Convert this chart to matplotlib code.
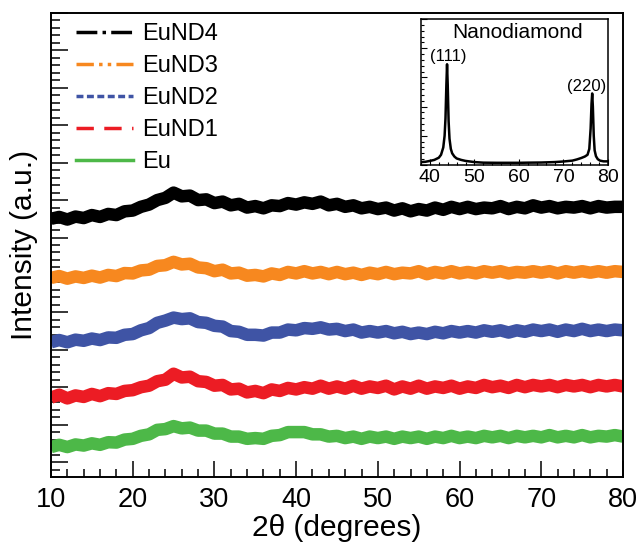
import numpy as np
import matplotlib
matplotlib.use("Agg")
import matplotlib.pyplot as plt
from matplotlib.lines import Line2D
from matplotlib.ticker import MultipleLocator, NullFormatter

plt.rcParams['font.family'] = ['Liberation Sans', 'DejaVu Sans']

# ---------------- data ----------------
two_theta = np.arange(10, 81, 1)

eund4 = [6.50, 6.55, 6.48, 6.56, 6.52, 6.60, 6.55, 6.63, 6.60, 6.70, 6.72, 6.82, 6.88, 7.00, 7.06, 7.20,
         7.10, 7.12, 7.00, 7.02, 6.92, 6.96, 6.86, 6.90, 6.80, 6.84, 6.78, 6.86, 6.84, 6.92, 6.88, 6.94,
         6.90, 6.96, 6.86, 6.90, 6.82, 6.86, 6.78, 6.82, 6.76, 6.80, 6.72, 6.78, 6.70, 6.76, 6.72, 6.80,
         6.74, 6.82, 6.76, 6.82, 6.76, 6.80, 6.78, 6.84, 6.76, 6.82, 6.78, 6.86, 6.80, 6.84, 6.78, 6.82,
         6.80, 6.84, 6.78, 6.84, 6.80, 6.82, 6.82]
eund3 = [4.92, 4.97, 4.90, 4.96, 4.92, 4.98, 4.93, 5.00, 4.97, 5.05, 5.04, 5.12, 5.14, 5.24, 5.26, 5.35,
         5.28, 5.30, 5.20, 5.18, 5.10, 5.14, 5.04, 5.06, 4.98, 5.00, 4.96, 5.04, 5.00, 5.08, 5.04, 5.10,
         5.04, 5.08, 5.02, 5.08, 5.02, 5.06, 5.00, 5.06, 5.02, 5.08, 5.02, 5.06, 5.04, 5.10, 5.02, 5.08,
         5.04, 5.10, 5.04, 5.08, 5.04, 5.10, 5.06, 5.10, 5.04, 5.08, 5.06, 5.10, 5.06, 5.10, 5.04, 5.10,
         5.06, 5.10, 5.06, 5.10, 5.06, 5.10, 5.08]
eund2 = [3.20, 3.26, 3.20, 3.27, 3.24, 3.30, 3.26, 3.33, 3.32, 3.40, 3.42, 3.52, 3.58, 3.72, 3.78, 3.86,
         3.82, 3.84, 3.74, 3.72, 3.64, 3.62, 3.50, 3.48, 3.40, 3.40, 3.38, 3.46, 3.46, 3.54, 3.52, 3.58,
         3.56, 3.60, 3.54, 3.56, 3.50, 3.54, 3.46, 3.50, 3.46, 3.50, 3.44, 3.48, 3.42, 3.46, 3.42, 3.48,
         3.44, 3.50, 3.46, 3.50, 3.46, 3.52, 3.48, 3.52, 3.46, 3.52, 3.48, 3.54, 3.50, 3.54, 3.48, 3.54,
         3.50, 3.56, 3.50, 3.54, 3.50, 3.54, 3.52]
eund1 = [1.72, 1.80, 1.70, 1.78, 1.74, 1.82, 1.76, 1.84, 1.82, 1.90, 1.92, 2.00, 2.04, 2.16, 2.20, 2.36,
         2.26, 2.28, 2.16, 2.14, 2.04, 2.06, 1.94, 1.96, 1.86, 1.90, 1.84, 1.94, 1.90, 1.98, 1.94, 2.00,
         1.96, 2.04, 1.96, 2.02, 1.96, 2.04, 1.96, 2.02, 1.98, 2.04, 1.94, 2.02, 1.96, 2.04, 1.96, 2.02,
         1.98, 2.04, 1.96, 2.02, 1.98, 2.06, 2.00, 2.04, 1.98, 2.06, 2.00, 2.06, 2.02, 2.06, 2.00, 2.06,
         2.02, 2.06, 2.00, 2.06, 2.02, 2.06, 2.02]
eu = [0.40, 0.46, 0.40, 0.47, 0.44, 0.50, 0.46, 0.53, 0.52, 0.60, 0.62, 0.70, 0.74, 0.86, 0.88, 0.96,
      0.90, 0.92, 0.84, 0.84, 0.76, 0.76, 0.68, 0.68, 0.62, 0.64, 0.62, 0.70, 0.72, 0.80, 0.80, 0.80,
      0.74, 0.74, 0.68, 0.70, 0.64, 0.68, 0.62, 0.68, 0.64, 0.68, 0.62, 0.68, 0.64, 0.68, 0.62, 0.68,
      0.64, 0.70, 0.64, 0.68, 0.64, 0.70, 0.66, 0.70, 0.64, 0.70, 0.66, 0.70, 0.66, 0.72, 0.66, 0.70,
      0.66, 0.72, 0.66, 0.70, 0.68, 0.72, 0.68]

series_names = ["EuND4", "EuND3", "EuND2", "EuND1", "Eu"]
series_colors = ["#000000", "#F7881F", "#3F54A5", "#EC1C24", "#4DB848"]
series_styles = [(0, (6, 1.5, 1, 1.5)), (0, (5, 1.5, 1, 1.5, 1, 1.5)), (0, (2, 1)), (0, (5, 3)), "-"]
series_values = [eund4, eund3, eund2, eund1, eu]

nd_theta = [38, 39, 40, 41, 42, 42.5, 43, 43.3, 43.5, 43.7, 43.85, 44.0, 44.2, 44.4, 44.7, 45, 45.5,
            46, 47, 48, 50, 52, 55, 58, 60, 62, 65, 68, 70, 71, 72, 73, 74, 74.8, 75.4, 75.8, 76.1,
            76.3, 76.45, 76.6, 76.8, 77.0, 77.3, 77.7, 78.2, 79, 80]
nd_int = [0.020, 0.022, 0.028, 0.035, 0.050, 0.070, 0.120, 0.200, 0.320, 0.550, 0.690, 0.550, 0.300,
          0.180, 0.110, 0.080, 0.058, 0.045, 0.035, 0.028, 0.020, 0.016, 0.015, 0.015, 0.015, 0.016,
          0.017, 0.020, 0.024, 0.027, 0.030, 0.038, 0.048, 0.058, 0.070, 0.110, 0.250, 0.420, 0.490,
          0.400, 0.200, 0.100, 0.060, 0.040, 0.030, 0.025, 0.025]
peak_labels = ["(111)", "(220)"]

# ---------------- figure ----------------
fig = plt.figure(figsize=(6.4, 5.43), dpi=100)
ax = fig.add_axes([51 / 640, 1 - 477 / 543, 572 / 640, 464 / 543])

for vals, col in zip(series_values, series_colors):
    ax.plot(two_theta, vals, color=col, lw=9, solid_joinstyle='round', solid_capstyle='butt')

ax.set_xlim(10, 80)
ax.set_ylim(-0.4, 12.0)
ax.xaxis.set_major_locator(MultipleLocator(10))
ax.xaxis.set_minor_locator(MultipleLocator(2))
ax.yaxis.set_major_locator(MultipleLocator(1))
ax.yaxis.set_minor_locator(MultipleLocator(0.2))
ax.yaxis.set_major_formatter(NullFormatter())
ax.tick_params(axis='both', which='both', direction='in', top=False, right=False)
ax.tick_params(axis='x', which='major', length=11.5, width=1.1, labelsize=19.5, pad=7)
ax.tick_params(axis='x', which='minor', length=5.8, width=1.1)
ax.tick_params(axis='y', which='major', length=12, width=1.1)
ax.tick_params(axis='y', which='minor', length=6.5, width=1.1)
for sp in ax.spines.values():
    sp.set_linewidth(1.4)

ax.set_xlabel("2θ (degrees)", fontsize=21.5, labelpad=1)
ax.set_ylabel("Intensity (a.u.)", fontsize=21.5, labelpad=5.5)

handles = [Line2D([0], [0], color=c, lw=2.5, linestyle=s) for c, s in zip(series_colors, series_styles)]
ax.legend(handles, series_names, loc='upper left', bbox_to_anchor=(0.044, 0.978), frameon=False,
          fontsize=17, handlelength=2.4, handletextpad=0.4, labelspacing=0.42, borderpad=0,
          borderaxespad=0)

# ---------------- inset ----------------
ins = fig.add_axes([421 / 640, 1 - 165 / 543, 187 / 640, 146 / 543])
ins.plot(nd_theta, nd_int, color='black', lw=1.8)
ins.set_xlim(38, 80)
ins.set_ylim(0, 1)
ins.xaxis.set_major_locator(MultipleLocator(10))
ins.xaxis.set_minor_locator(MultipleLocator(2))
ins.yaxis.set_major_locator(MultipleLocator(0.2))
ins.yaxis.set_minor_locator(MultipleLocator(0.04))
ins.yaxis.set_major_formatter(NullFormatter())
ins.tick_params(axis='both', which='both', direction='in', top=False, right=False)
ins.tick_params(which='major', length=4, width=0.8, labelsize=14, pad=3)
ins.tick_params(which='minor', length=2.5, width=0.8)
for sp in ins.spines.values():
    sp.set_linewidth(1.1)
ins.text(59.6, 0.91, "Nanodiamond", fontsize=15, ha='center', va='center')
ins.text(44.1, 0.74, peak_labels[0], fontsize=12, ha='center', va='center')
ins.text(75.3, 0.54, peak_labels[1], fontsize=12, ha='center', va='center')

fig.savefig("out.png", dpi=100)
